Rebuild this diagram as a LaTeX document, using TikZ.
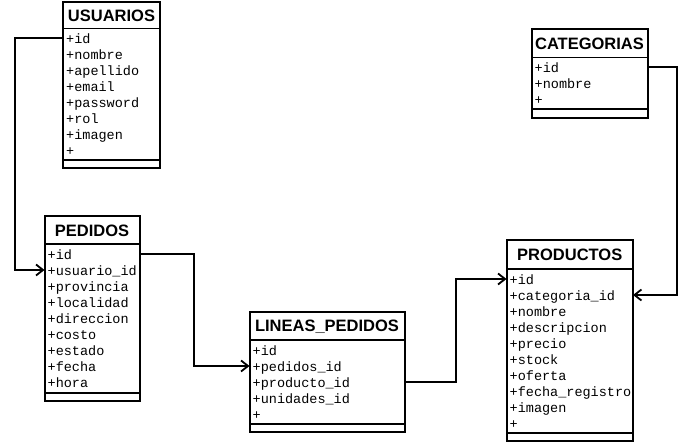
\documentclass[tikz,border=0pt]{standalone}
\usepackage{fontspec}
\setmainfont{Liberation Sans}
\newfontfamily\monofam{Liberation Mono}
\usetikzlibrary{arrows.meta}
\begin{document}
\begin{tikzpicture}[x=1pt,y=-1pt,
  tbl/.style={draw, line width=2pt, inner sep=0pt, outer sep=0pt, anchor=north west},
  ttl/.style={font=\bfseries\fontsize{16.5}{18}\selectfont, inner sep=0pt},
  fld/.style={font=\monofam\fontsize{13.5}{16}\selectfont, anchor=west, inner sep=0pt, text height=10.5pt, text depth=0pt},
  hdr/.style={line width=1.2pt},
  sep/.style={line width=2pt},
  conn/.style={line width=1.8pt, -{Straight Barb[length=7pt,width=11pt]}}]
\useasboundingbox (0,0) rectangle (678,443);

% USUARIOS
\node[tbl, minimum width=97pt, minimum height=166.5pt] (usuarios) at (63,2) {};
\node[ttl] (usuarios-t) at (111.5,15.8) {USUARIOS};
\draw[hdr] (63,28.5) -- (160,28.5);
\draw[sep] (63,160.5) -- (160,160.5);
\foreach \n/\t [count=\i from 0] in {id/+id, nombre/+nombre, apellido/+apellido, email/+email, password/+password, rol/+rol, imagen/+imagen, plus/+}
  \node[fld] (u-\n) at (66,38+16*\i) {\t};

% CATEGORIAS
\node[tbl, minimum width=116pt, minimum height=88.4pt] (categorias) at (531.5,29.3) {};
\node[ttl] (categorias-t) at (589.5,44) {CATEGORIAS};
\draw[hdr] (531.5,57.7) -- (647.5,57.7);
\draw[sep] (531.5,109.3) -- (647.5,109.3);
\foreach \n/\t [count=\i from 0] in {id/+id, nombre/+nombre, plus/+}
  \node[fld] (c-\n) at (534.5,67+16*\i) {\t};

% PEDIDOS
\node[tbl, minimum width=95pt, minimum height=185pt] (pedidos) at (44.5,216) {};
\node[ttl] (pedidos-t) at (92,230.5) {PEDIDOS};
\draw[hdr] (44.5,244) -- (139.5,244);
\draw[sep] (44.5,392.7) -- (139.5,392.7);
\foreach \n/\t [count=\i from 0] in {id/+id, usuario/+usuario\_id, provincia/+provincia, localidad/+localidad, direccion/+direccion, costo/+costo, estado/+estado, fecha/+fecha, hora/+hora}
  \node[fld] (p-\n) at (47.5,254+16*\i) {\t};

% LINEAS_PEDIDOS
\node[tbl, minimum width=155pt, minimum height=119.2pt] (lineas) at (249.5,312.5) {};
\node[ttl] (lineas-t) at (327,326.8) {LINEAS\_PEDIDOS};
\draw[hdr] (249.5,340) -- (404.5,340);
\draw[sep] (249.5,424.3) -- (404.5,424.3);
\foreach \n/\t [count=\i from 0] in {id/+id, pedidos/+pedidos\_id, producto/+producto\_id, unidades/+unidades\_id, plus/+}
  \node[fld] (l-\n) at (252.5,350+16*\i) {\t};

% PRODUCTOS
\node[tbl, minimum width=126.5pt, minimum height=201pt] (productos) at (506.5,240.5) {};
\node[ttl] (productos-t) at (569.75,255.3) {PRODUCTOS};
\draw[hdr] (506.5,269) -- (633,269);
\draw[sep] (506.5,433.5) -- (633,433.5);
\foreach \n/\t [count=\i from 0] in {id/+id, categoria/+categoria\_id, nombre/+nombre, descripcion/+descripcion, precio/+precio, stock/+stock, oferta/+oferta, fecha/+fecha\_registro, imagen/+imagen, plus/+}
  \node[fld] (r-\n) at (509.5,279+16*\i) {\t};

% connectors
\coordinate (c1) at (15,0);
\coordinate (c2) at (194,0);
\coordinate (c3) at (456,0);
\coordinate (c4) at (677,0);
\draw[conn] (usuarios.west |- u-id) -- (c1 |- u-id) -- (c1 |- p-usuario) -- (pedidos.west |- p-usuario);
\draw[conn] (pedidos.east |- p-id) -- (c2 |- p-id) -- (c2 |- l-pedidos) -- (lineas.west |- l-pedidos);
\draw[conn] (lineas.east |- l-producto) -- (c3 |- l-producto) -- (c3 |- r-id) -- (productos.west |- r-id);
\draw[conn] (categorias.east |- c-id) -- (c4 |- c-id) -- (c4 |- r-categoria) -- (productos.east |- r-categoria);
\end{tikzpicture}
\end{document}
